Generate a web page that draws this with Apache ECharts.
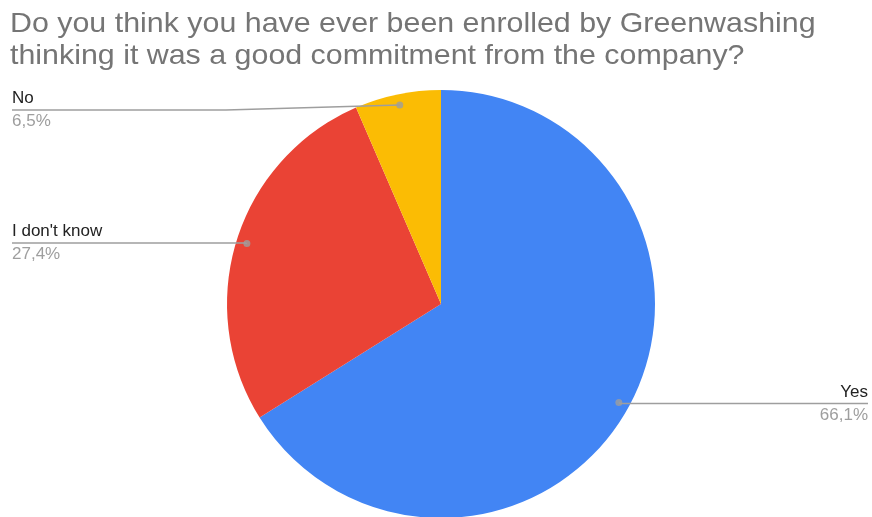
<!DOCTYPE html>
<html>
<head>
<meta charset="utf-8">
<script src="https://cdn.jsdelivr.net/npm/echarts@6/dist/echarts.min.js"></script>
<style>
  html, body { margin: 0; padding: 0; background: #fff; }
  #chart { width: 872px; height: 517px; }
</style>
</head>
<body>
<div id="chart"></div>
<script>
// Survey answers and their shares (percent)
const categories = ['Yes', "I don't know", 'No'];
const shares = [66.1, 27.4, 6.5];
const colors = ['#4285f4', '#ea4335', '#fbbc04'];

const titleLines = [
  'Do you think you have ever been enrolled by Greenwashing',
  'thinking it was a good commitment from the company?'
];

const FONT = 'Liberation Sans, Arial, sans-serif';
const CENTER = [441, 304];
const RADIUS = 214;
const ANCHOR = 0.95;        // where the leader lines start, as a fraction of the radius
const MIN_LABEL_TOP = 90;   // keep slice labels clear of the heading

// Mid-angle of each slice, in percent of the full circle
const total = shares.reduce((a, b) => a + b, 0);
let acc = 0;
const midPoints = shares.map(v => {
  const mid = acc + v / 2;
  acc += v;
  return [ANCHOR, mid / total * 100];
});

const fmtPct = v => v.toFixed(1).replace('.', ',') + '%';

const chart = echarts.init(document.getElementById('chart'), null, { renderer: 'canvas' });

chart.setOption({
  animation: false,
  backgroundColor: '#ffffff',
  graphic: [{
    // chart heading, slightly widened typeface
    type: 'text',
    left: 10,
    top: 8,
    scaleX: 1.085,
    originX: 0,
    silent: true,
    style: {
      text: titleLines.join('\n'),
      font: 'normal 28px ' + FONT,
      fill: '#757575',
      lineHeight: 32
    }
  }],
  polar: { center: CENTER, radius: RADIUS },
  angleAxis: { type: 'value', min: 0, max: 100, startAngle: 90, clockwise: true, show: false },
  radiusAxis: { type: 'value', min: 0, max: 1, show: false },
  series: [
    {
      // filled slices
      type: 'pie',
      center: CENTER,
      radius: RADIUS,
      startAngle: 90,
      clockwise: true,
      silent: true,
      label: { show: false },
      labelLine: { show: false },
      data: categories.map((name, i) => ({
        name, value: shares[i], itemStyle: { color: colors[i] }
      }))
    },
    {
      // invisible inner ring carrying the labels and leader lines
      type: 'pie',
      center: CENTER,
      radius: RADIUS * ANCHOR,
      startAngle: 90,
      clockwise: true,
      silent: true,
      z: 3,
      itemStyle: { color: 'rgba(0,0,0,0)' },
      label: {
        show: true,
        alignTo: 'edge',
        edgeDistance: 12,
        fontFamily: FONT,
        formatter: p => '{n|' + p.name + '}\n{p|' + fmtPct(p.value) + '}',
        rich: {
          n: { fontSize: 17, color: '#222222', lineHeight: 23, fontFamily: FONT },
          p: { fontSize: 17, color: '#9e9e9e', lineHeight: 23, fontFamily: FONT }
        }
      },
      labelLine: {
        show: true,
        length: 2,
        length2: 0,
        lineStyle: { color: '#9e9e9e', width: 1.5 }
      },
      labelLayout: function (params) {
        const pts = params.labelLinePoints;
        if (!pts) return {};
        const rect = params.labelRect;
        const isLeft = rect.x < chart.getWidth() / 2;
        pts[2][0] = isLeft ? rect.x : rect.x + rect.width;
        const out = { labelLinePoints: pts };
        if (rect.y < MIN_LABEL_TOP) {
          // push the label down and bend its leader line halfway
          const dy = MIN_LABEL_TOP - rect.y;
          out.dy = dy;
          pts[2][1] += dy;
          pts[1] = [(pts[0][0] + pts[2][0]) / 2 + 20, pts[2][1]];
        }
        return out;
      },
      data: categories.map((name, i) => ({
        name, value: shares[i],
        label: i === 0 ? { edgeDistance: 4, align: 'right' } : {}
      }))
    },
    {
      // anchor dots at the start of each leader line
      type: 'scatter',
      coordinateSystem: 'polar',
      symbol: 'circle',
      symbolSize: 7,
      silent: true,
      z: 4,
      itemStyle: { color: '#9e9e9e' },
      data: midPoints
    }
  ]
});
</script>
</body>
</html>
